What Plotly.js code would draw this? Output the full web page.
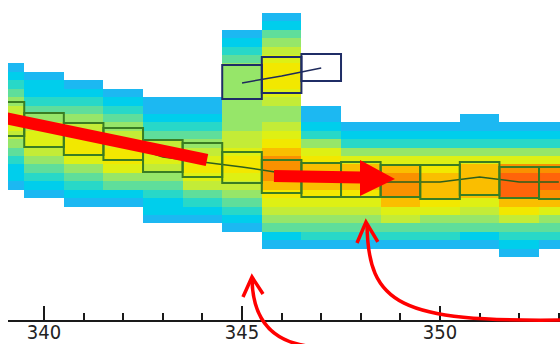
<!DOCTYPE html>
<html>
<head>
<meta charset="utf-8">
<script src="https://cdn.plot.ly/plotly-3.0.1.min.js"></script>
<style>html,body{margin:0;padding:0;background:#fff;}#chart{width:560px;height:344px;}</style>
</head>
<body>
<div id="chart"></div>
<script>
// ---- data ----
const columns = [339,340,341,342,343,344,345,346,347,348,349,350,351,352,353];
// first (top) occupied bin of each column, bins counted from the top (0..28)
const firstBin = [6,7,8,9,10,10,2,0,11,13,13,13,12,13,13];
// density level (0..10) of each occupied bin, top to bottom
const density = [
  [0,1,2,3,4,5,6,6,5,4,3,2,1,1,0],
  [0,1,1,2,3,4,5,6,6,5,4,3,2,1,0],
  [0,1,2,3,4,5,6,7,7,6,4,3,2,1,0],
  [0,1,2,3,4,5,6,7,7,6,4,3,1,0],
  [0,0,1,2,3,5,6,6,5,4,3,2,1,1,0],
  [0,0,1,2,3,4,5,6,7,6,5,3,2,1,0],
  [0,1,2,3,4,4,4,4,4,4,4,4,5,5,6,7,7,6,5,4,3,2,1,0],
  [0,1,3,4,5,6,7,7,7,6,5,4,4,5,6,7,8,9,9,9,8,7,6,5,4,3,1,0],
  [0,0,1,2,4,6,7,8,8,8,7,6,5,4,3,2,0],
  [0,1,2,4,6,8,8,8,7,6,5,4,3,2,0],
  [0,1,2,4,6,8,9,9,9,8,6,5,3,2,0],
  [0,1,2,4,6,7,8,8,8,7,6,4,3,2,0],
  [0,0,1,2,4,6,8,8,8,8,6,5,4,3,1,0],
  [0,1,2,4,6,9,10,10,10,8,7,5,3,2,1,0],
  [0,1,2,4,6,9,10,10,9,8,6,4,3,2,0]
];
const nBins = 29;
// main branch quartiles and median
const boxHigh = [18.40,17.10,15.90,15.31,13.88,13.52,12.45,11.50,11.14,11.26,10.90,10.90,11.26,10.67,10.67];
const boxLow  = [14.36,13.05,12.10,11.50,10.07,9.48,8.76,7.57,7.10,7.10,7.10,6.86,7.33,6.98,6.86];
const boxMedian = [16.38,15.07,14.00,13.40,11.86,11.26,10.67,9.95,9.36,8.88,8.88,8.88,9.48,8.88,8.88];
// upper branch
const upperCols = [345,346,347];
const upperHigh = [22.81,23.76,24.12];
const upperLow  = [18.76,19.48,20.90];
const upperMedian = [20.67,21.50,22.45];
const tickVals = [340,345,350];

// ---- build heatmap grid ----
const yCenters = [];
for (let k = 0; k < nBins; k++) yCenters.push(nBins - 0.5 - k);
const z = yCenters.map(() => columns.map(() => null));
columns.forEach((c, i) => {
  density[i].forEach((v, j) => { z[firstBin[i] + j][i] = v; });
});

const colorscale = [
  [0.0, 'rgb(28,184,242)'],
  [0.1, 'rgb(0,206,236)'],
  [0.2, 'rgb(40,216,200)'],
  [0.3, 'rgb(95,222,155)'],
  [0.4, 'rgb(150,230,105)'],
  [0.5, 'rgb(195,236,55)'],
  [0.6, 'rgb(222,240,20)'],
  [0.7, 'rgb(242,232,0)'],
  [0.8, 'rgb(250,190,0)'],
  [0.9, 'rgb(250,145,0)'],
  [1.0, 'rgb(255,100,10)']
];

const traces = [
  {type:'heatmap', x: columns, y: yCenters, z: z, zmin: 0, zmax: 10,
   colorscale: colorscale, showscale: false, hoverinfo: 'skip', zsmooth: false},
  {type:'scatter', mode:'lines', x: columns, y: boxMedian,
   line:{color:'#2d5f1c', width:1.5}, hoverinfo:'skip'},
  {type:'scatter', mode:'lines', x: upperCols, y: upperMedian,
   line:{color:'#1e2a5c', width:1.5}, hoverinfo:'skip'}
];

const shapes = [];
columns.forEach((c, i) => {
  shapes.push({type:'rect', xref:'x', yref:'y', x0:c-0.5, x1:c+0.5, y0:boxLow[i], y1:boxHigh[i],
    line:{color:'#3a7d23', width:2}, fillcolor:'rgba(0,0,0,0)'});
});
upperCols.forEach((c, i) => {
  shapes.push({type:'rect', xref:'x', yref:'y', x0:c-0.5, x1:c+0.5, y0:upperLow[i], y1:upperHigh[i],
    line:{color:'#1f2d66', width:2}, fillcolor:'rgba(0,0,0,0)'});
});

// ---- red annotation marks (axis units) ----
const RED = '#ff0000';
shapes.push({type:'line', xref:'x', yref:'y', x0:339.0, y0:16.5, x1:344.115, y1:11.5,
  line:{color:RED, width:12}});
shapes.push({type:'line', xref:'x', yref:'y', x0:345.807, y0:9.595, x1:348.0, y1:9.42,
  line:{color:RED, width:12}});
shapes.push({type:'path', xref:'x', yref:'y',
  path:'M347.979,11.5 L348.863,9.238 L347.979,7.214 Z', fillcolor:RED, line:{color:RED, width:0}});
// curved arrow A
shapes.push({type:'path', xref:'x', yref:'y',
  path:'M346.64,-10.64 Q345.277,-9.69 345.252,-2.667', line:{color:RED, width:3.5}});
shapes.push({type:'path', xref:'x', yref:'y',
  path:'M345.024,-4.81 L345.252,-2.43 L345.53,-4.45', line:{color:RED, width:3.5}});
// curved arrow B
shapes.push({type:'path', xref:'x', yref:'y',
  path:'M353.08,-7.55 C348.99,-7.79 348.18,-5.76 348.156,3.88', line:{color:RED, width:3.5}});
shapes.push({type:'path', xref:'x', yref:'y',
  path:'M347.903,1.62 L348.13,4.12 L348.43,1.74', line:{color:RED, width:3.5}});

const layout = {
  width:560, height:344,
  margin:{l:8, r:0, t:0, b:0, pad:0},
  paper_bgcolor:'#ffffff', plot_bgcolor:'#ffffff',
  showlegend:false,
  xaxis:{range:[339.09,353.03], anchor:'free', position:23/344,
    showline:true, linecolor:'#1a1a1a', linewidth:2,
    ticks:'inside', ticklen:14, tickwidth:2, tickcolor:'#1a1a1a',
    tickvals: tickVals, ticktext: tickVals.map(String),
    ticklabelstandoff:-7,
    minor:{dtick:1, tick0:339, ticks:'inside', ticklen:7, tickwidth:2, tickcolor:'#1a1a1a', showgrid:false},
    showgrid:false, zeroline:false,
    tickfont:{family:'"Liberation Sans Narrow", "DejaVu Sans Condensed", "Arial Narrow", sans-serif', size:20, color:'#222'}},
  yaxis:{range:[-10.405,30.548], visible:false, showgrid:false, zeroline:false},
  shapes: shapes
};

Plotly.newPlot('chart', traces, layout, {staticPlot:true, displayModeBar:false});
</script>
</body>
</html>
